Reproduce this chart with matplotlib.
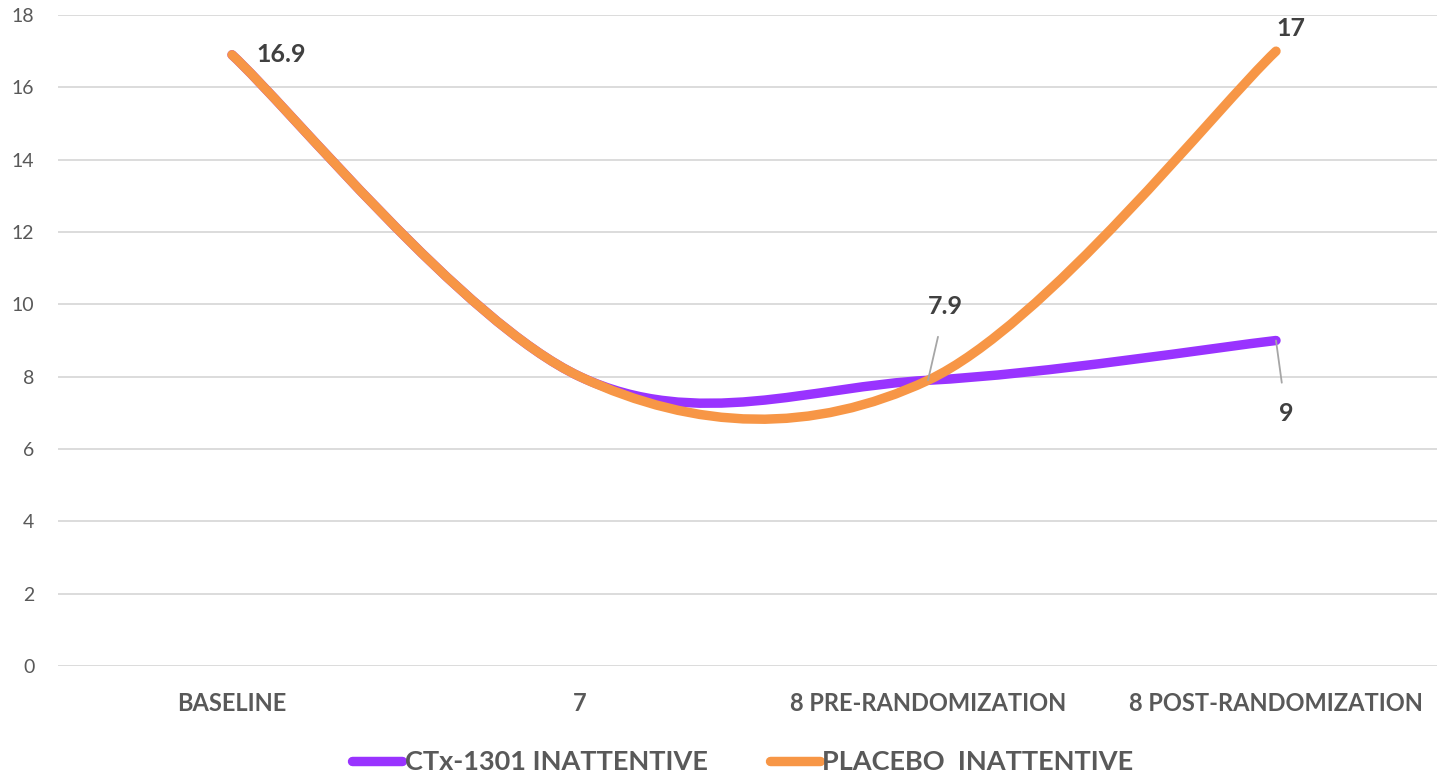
import numpy as np
import matplotlib.pyplot as plt
from matplotlib.path import Path
from matplotlib.patches import PathPatch
from matplotlib.lines import Line2D

# %% Dados
categorias = ['BASELINE', '7', '8 PRE-RANDOMIZATION', '8 POST-RANDOMIZATION']
ctx_1301 = [16.9, 8.0, 7.9, 9.0]
placebo = [16.9, 8.0, 7.9, 17.0]
nomes = ['CTx-1301 INATTENTIVE', 'PLACEBO  INATTENTIVE']

# rótulos de dados: (serie, indice, deslocamento em px, linha guia)
rotulos = [
    (placebo, 0, (24, 0), False, 'left'),
    (placebo, 3, (15, 23), False, 'center'),
    (placebo, 2, (17, 74), True, 'center'),
    (ctx_1301, 3, (10, -73), True, 'center'),
]

roxo = '#9933FF'
laranja = '#F79646'
cinza_txt = '#595959'

plt.rcParams['font.family'] = ['Lato', 'DejaVu Sans']


# %% Suavização tipo Excel (bezier cúbica)
def caminho_suave(x, y):
    x = np.asarray(x, float)
    y = np.asarray(y, float)
    n = len(x)
    verts = [(x[0], y[0])]
    codes = [Path.MOVETO]
    for i in range(n - 1):
        p0 = np.array([x[max(i - 1, 0)], y[max(i - 1, 0)]])
        p1 = np.array([x[i], y[i]])
        p2 = np.array([x[i + 1], y[i + 1]])
        p3 = np.array([x[min(i + 2, n - 1)], y[min(i + 2, n - 1)]])
        c1 = p1 + (p2 - p0) / 6
        c2 = p2 - (p3 - p1) / 6
        verts += [tuple(c1), tuple(c2), tuple(p2)]
        codes += [Path.CURVE4] * 3
    return Path(verts, codes)


# %% Figura
fig = plt.figure(figsize=(14.37, 7.77), dpi=100)
ax = fig.add_axes([58 / 1437, 1 - 666 / 777, 1392 / 1437, 651 / 777])

xs = np.arange(len(categorias))
lw = 6.8
for serie, cor in [(ctx_1301, roxo), (placebo, laranja)]:
    patch = PathPatch(caminho_suave(xs, serie), fill=False, edgecolor=cor,
                      linewidth=lw, capstyle='round', joinstyle='round',
                      zorder=3)
    ax.add_patch(patch)

ax.set_xlim(-0.5, len(categorias) - 0.5)
ax.set_ylim(0, 18)
ax.set_yticks(np.arange(0, 19, 2))
ax.set_xticks(xs)
ax.set_xticklabels(categorias, fontsize=17, fontweight='bold', color=cinza_txt)
ax.tick_params(axis='x', length=0, pad=19)
ax.tick_params(axis='y', length=0, pad=17, labelsize=14, labelcolor=cinza_txt)
ax.grid(axis='y', color='#D9D9D9', linewidth=1.3)
ax.set_axisbelow(True)
for s in ax.spines.values():
    s.set_visible(False)

for serie, i, (dx, dy), guia, ha in rotulos:
    props = None
    if guia:
        props = dict(arrowstyle='-', color='#A6A6A6', lw=1.3,
                     shrinkA=12, shrinkB=0)
    ax.annotate(f'{serie[i]:g}', xy=(xs[i], serie[i]),
                xytext=(dx * 0.72, dy * 0.72), textcoords='offset points',
                ha=ha, va='center', fontsize=18, fontweight='bold',
                color='#404040', arrowprops=props, zorder=5)

handles = [Line2D([], [], color=roxo, lw=lw, solid_capstyle='round'),
           Line2D([], [], color=laranja, lw=lw, solid_capstyle='round')]
leg = fig.legend(handles, nomes, loc='center', bbox_to_anchor=(0.517, 1 - 762 / 777),
                 ncol=2, frameon=False, handlelength=1.85, handletextpad=0.1,
                 columnspacing=2.27, prop=dict(family='Lato', weight='bold', size=19.5))
for t in leg.get_texts():
    t.set_color(cinza_txt)

fig.savefig('out.png', dpi=100)
